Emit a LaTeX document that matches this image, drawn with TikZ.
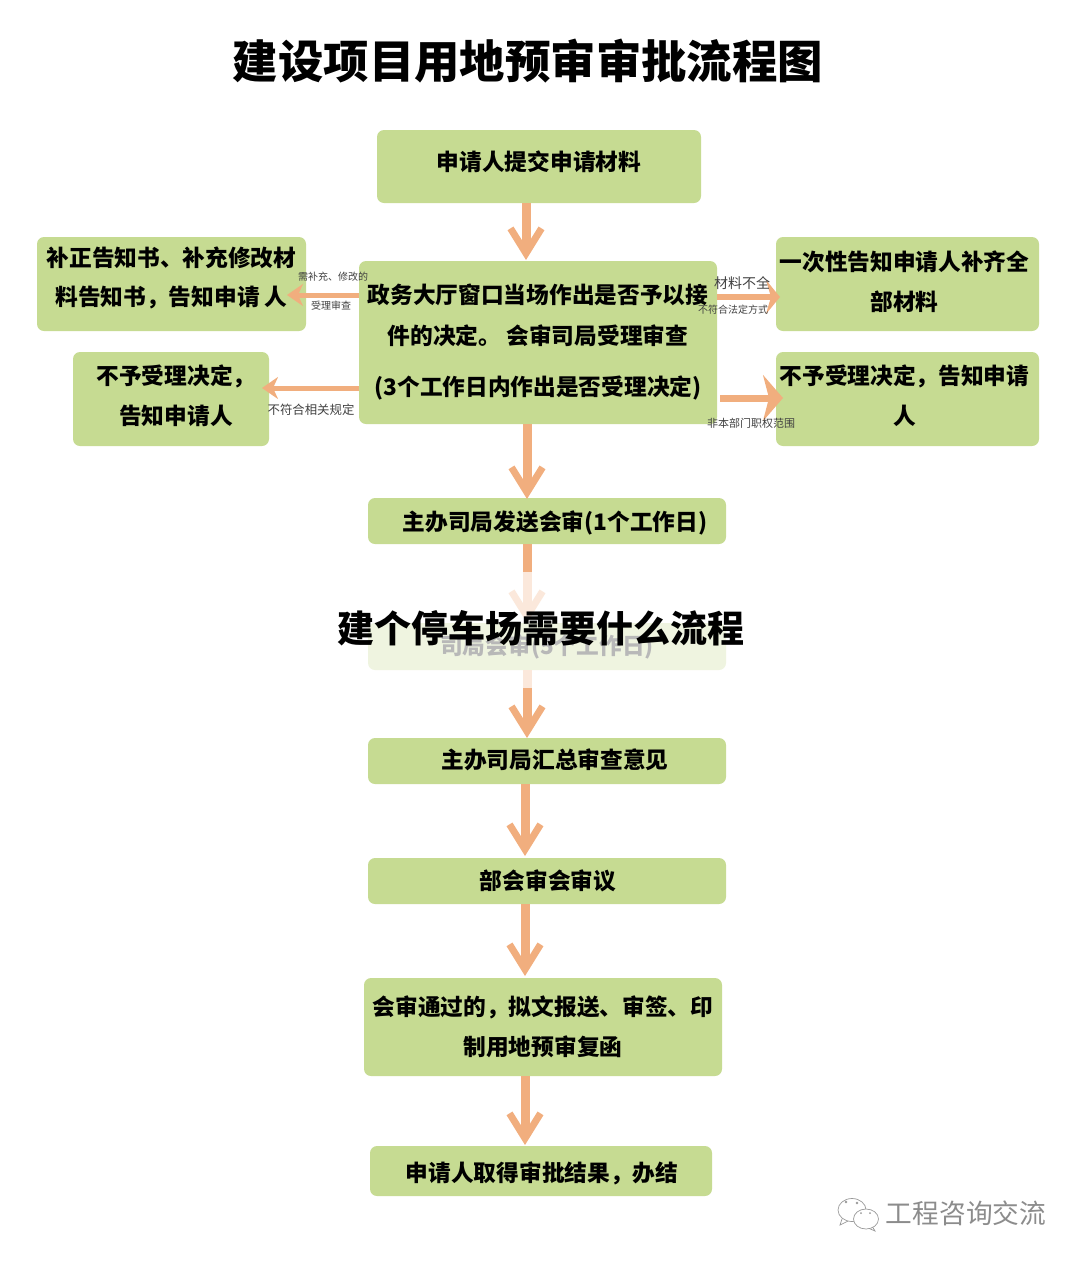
\documentclass[tikz,border=0pt]{standalone}
\usepackage{fontspec}
\usepackage{xcolor}
\usetikzlibrary{positioning,arrows.meta,shapes.geometric}
\setmainfont{Noto Sans CJK SC}
\newfontfamily\heavyfont{Noto Sans CJK SC Black}
\definecolor{boxgreen}{HTML}{C6DB92}
\definecolor{arroworange}{HTML}{F1AE7E}
\tikzset{green box/.style={fill=boxgreen,rounded corners=7pt,inner sep=0pt,outer sep=0pt,align=center,font=\bfseries\fontsize{22.7pt}{40pt}\selectfont},}
\tikzset{big arrow/.style={draw=arroworange,line width=9pt,-{Straight Barb[length=25pt,width=31pt,line width=7pt]}},}
\tikzset{side arrow/.style={draw=arroworange,line width=5pt,-{Stealth[length=16pt,width=22pt,inset=5pt]}},}
\tikzset{small label/.style={inner sep=0pt,text=black!75},}

\begin{document}
\begin{tikzpicture}[x=1pt,y=-1pt]
       \useasboundingbox (0,0) rectangle (1080,1261);

       \node[font=\heavyfont\fontsize{45.4pt}{50pt}\selectfont,inner sep=0pt] (title) at (528,61) {建设项目用地预审审批流程图};

       \node[green box,minimum width=324pt,minimum height=73pt,text depth=12pt] (start) at (539,166.5) {申请人提交申请材料};
       \node[green box,minimum width=358pt,minimum height=163pt,text depth=6pt] (hall) [below = 58pt of start,xshift=-1pt] {政务大厅窗口当场作出是否予以接\\[1pt]件的决定。 会审司局受理审查\\[11pt](3个工作日内作出是否受理决定)};
       \node[green box,minimum width=358pt,minimum height=46pt,text height=24pt] (send) [below = 74pt of hall,xshift=9pt] {\hspace*{16pt}主办司局发送会审(1个工作日)};
       \node[green box,minimum width=358pt,minimum height=47pt] (review) [below = 79pt of send] {司局会审(5个工作日)};
       \node[green box,minimum width=358pt,minimum height=46pt,text depth=5pt] (collect) [below = 68pt of review] {\hspace*{16pt}主办司局汇总审查意见};
       \node[green box,minimum width=358pt,minimum height=46pt] (meeting) [below = 74pt of collect] {\hspace*{2pt}部会审会审议};
       \node[green box,minimum width=358pt,minimum height=98pt] (issue) [below = 74pt of meeting,xshift=-4pt] {会审通过的，拟文报送、审签、印\\制用地预审复函};
       \node[green box,minimum width=342pt,minimum height=50pt,text height=24pt] (finish) [below = 70pt of issue,xshift=-2pt] {\hspace*{2pt}申请人取得审批结果，办结};

       \node[green box,minimum width=269pt,minimum height=94pt,text depth=16pt] (correct) [left = 53pt of hall,yshift=58.5pt] {补正告知书、补充修改材\\[-1pt]料告知书，告知申请 人};
       \node[green box,minimum width=196pt,minimum height=94pt,text depth=9pt] (rejectl) [left = 90pt of hall,yshift=-56.5pt] {\hspace*{10pt}不予受理决定，\\\hspace*{10pt}告知申请人};
       \node[green box,minimum width=263pt,minimum height=94pt,text depth=7pt] (notify) [right = 59pt of hall,yshift=58.5pt] {一次性告知申请人补齐全\hspace*{6pt}\\部材料\hspace*{6pt}};
       \node[green box,minimum width=263pt,minimum height=94pt,text depth=9pt] (rejectr) [right = 59pt of hall,yshift=-56.5pt] {不予受理决定，告知申请\hspace*{6pt}\\人\hspace*{6pt}};

       \draw[big arrow] ([xshift=-13pt]start.south) -- ([xshift=-12pt,yshift=1pt]hall.north);
       \draw[big arrow] ([xshift=-11pt]hall.south) -- ([xshift=-20pt,yshift=-1pt]send.north);
       \draw[big arrow] ([xshift=-20pt]send.south) -- ([xshift=-20pt]review.north);
       \draw[big arrow] ([xshift=-20pt]review.south) -- ([xshift=-20pt]collect.north);
       \draw[big arrow] ([xshift=-22pt]collect.south) -- ([xshift=-22pt,yshift=2pt]meeting.north);
       \draw[big arrow] ([xshift=-22pt]meeting.south) -- ([xshift=-18pt,yshift=2pt]issue.north);
       \draw[big arrow] ([xshift=-18pt]issue.south) -- ([xshift=-16pt,yshift=1pt]finish.north);

       \draw[side arrow] ([yshift=47.5pt]hall.west) -- ([xshift=-19pt,yshift=-11pt]correct.east);
       \draw[side arrow] ([yshift=-45.5pt]hall.west) -- ([xshift=-7pt,yshift=11pt]rejectl.east);
       \draw[side arrow,line width=6pt,-{Stealth[length=14pt,width=34pt,inset=5pt]}] ([yshift=45.5pt]hall.east) -- ([xshift=4pt,yshift=-13pt]notify.west);
       \draw[side arrow,line width=7pt,-{Stealth[length=20pt,width=46pt,inset=6pt]}] ([xshift=3pt,yshift=-55.5pt]hall.east) -- ([xshift=7pt,yshift=1pt]rejectr.west);

       \node[small label,font=\fontsize{10pt}{12pt}\selectfont] (need) at (333,277) {需补充、修改的};
       \node[small label,font=\fontsize{10pt}{12pt}\selectfont] (accept) at (331,306) {受理审查};
       \node[small label,font=\fontsize{12.4pt}{15pt}\selectfont] (unfit) at (311,410) {不符合相关规定};
       \node[small label,font=\fontsize{14pt}{16pt}\selectfont] (lack) at (742,283) {材料不全};
       \node[small label,font=\fontsize{10pt}{12pt}\selectfont] (form) at (733,310) {不符合法定方式};
       \node[small label,font=\fontsize{11pt}{14pt}\selectfont] (scope) at (751,423) {非本部门职权范围};

       % faded band over the middle step
       \fill[white,opacity=0.72] (360,572) rectangle (735,688);
       \node[font=\heavyfont\fontsize{37pt}{40pt}\selectfont,inner sep=0pt] (banner) at (541,628) {建个停车场需要什么流程};

       \draw[black!40,line width=0.7pt] (842,1219) -- (840,1225) -- (848,1221);
       \node[draw=black!40,fill=white,ellipse,minimum width=28pt,minimum height=23pt,inner sep=0pt,line width=0.7pt] (bubbleone) at (852,1210) {};
       \draw[black!40,line width=0.7pt] (872,1226) -- (875,1231) -- (868,1228);
       \node[draw=black!40,fill=white,ellipse,minimum width=25pt,minimum height=20pt,inner sep=0pt,line width=0.7pt] (bubbletwo) at (866,1219) {};
       \fill[black!40] (846,1202) circle (1.3) (857,1203) circle (1.3) (861,1213) circle (1) (870,1213) circle (1);
       \node[font=\fontsize{26.7pt}{30pt}\selectfont,text=black!45,inner sep=0pt] (mark) at (966,1213) {工程咨询交流};
\end{tikzpicture}
\end{document}
